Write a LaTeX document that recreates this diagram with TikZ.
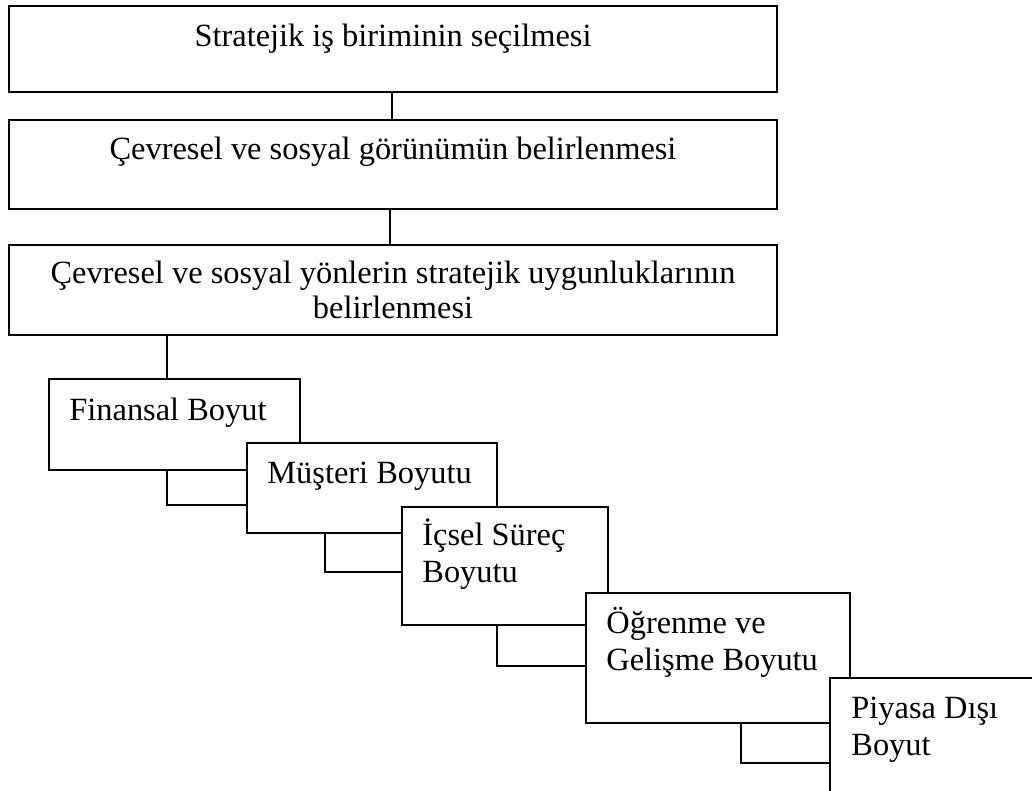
\documentclass[tikz,border=0pt]{standalone}
\usepackage{fontspec}
\setmainfont{Liberation Serif}
\tikzset{
  blok/.style={draw, line width=1pt, fill=white, anchor=north west, inner sep=0pt, outer sep=0pt},
  yazi/.style={inner sep=0pt, align=left, font=\fontsize{16.2}{18.5}\selectfont},
  bag/.style={line width=0.75pt}
}
\begin{document}
\begin{tikzpicture}[x=0.5pt, y=-0.5pt]
    \useasboundingbox (0,0) rectangle (1032,791);
    \clip (0,0) rectangle (1032,791);

    % Draw main steps
    \node[blok, minimum width=384pt, minimum height=43pt] (secim) at (9,6) {};
    \node[yazi, anchor=base] at ([shift={(0,41)}]secim.north) {Stratejik iş biriminin seçilmesi};
    \node[blok, minimum width=384pt, minimum height=44.5pt] (gorunum) at (9,120) {};
    \node[yazi, anchor=base] at ([shift={(0,40)}]gorunum.north) {Çevresel ve sosyal görünümün belirlenmesi};
    \node[blok, minimum width=384pt, minimum height=45pt] (uygun) at (9,245) {};
    \node[yazi, anchor=base, align=center, font=\fontsize{16.2}{17.5}\selectfont] at ([shift={(0,73)}]uygun.north) {Çevresel ve sosyal yönlerin stratejik uygunluklarının\\belirlenmesi};

    % Draw dimensions (base = last line)
    \node[blok, minimum width=125.5pt, minimum height=45.5pt] (finansal) at (49,379) {};
    \node[yazi, anchor=base west] at ([shift={(20,41)}]finansal.north west) {Finansal Boyut};
    \node[blok, minimum width=125pt, minimum height=45pt] (musteri) at (247,443) {};
    \node[yazi, anchor=base west] at ([shift={(20,40)}]musteri.north west) {Müşteri Boyutu};
    \node[blok, minimum width=103pt, minimum height=59pt] (surec) at (402,507) {};
    \node[yazi, anchor=base west] at ([shift={(20,75)}]surec.north west) {İçsel Süreç\\Boyutu};
    \node[blok, minimum width=132pt, minimum height=65pt] (ogrenme) at (586,593) {};
    \node[yazi, anchor=base west] at ([shift={(20,77)}]ogrenme.north west) {Öğrenme ve\\Gelişme Boyutu};
    \node[blok, minimum width=125pt, minimum height=75pt] (piyasa) at (830,678) {};
    \node[yazi, anchor=base west] at ([shift={(21,77)}]piyasa.north west) {Piyasa Dışı\\Boyut};

    % Draw connections
    \draw[bag] ([shift={(-1,0)}]secim.south) -- ([shift={(-1,0)}]gorunum.north);
    \draw[bag] ([shift={(-3,0)}]gorunum.south) -- ([shift={(-3,0)}]uygun.north);
    \draw[bag] (uygun.south -| 167,0) -- (finansal.north -| 167,0);
    \draw[bag] ([shift={(-7.5,0)}]finansal.south) |- ([shift={(0,17)}]musteri.west);
    \draw[bag] ([shift={(-47,0)}]musteri.south) |- ([shift={(0,6)}]surec.west);
    \draw[bag] ([shift={(-8,0)}]surec.south) |- ([shift={(0,8)}]ogrenme.west);
    \draw[bag] ([shift={(23,0)}]ogrenme.south) |- ([shift={(0,10)}]piyasa.west);
\end{tikzpicture}
\end{document}
